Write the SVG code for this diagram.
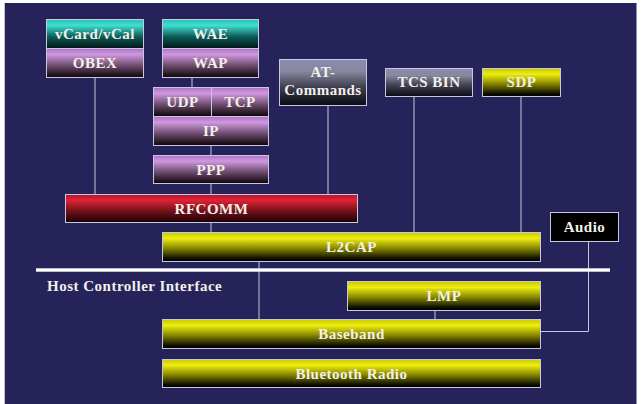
<svg xmlns="http://www.w3.org/2000/svg" width="642" height="404" viewBox="0 0 642 404">
<defs>
<linearGradient id="gY" x1="0" y1="0" x2="0" y2="1">
<stop offset="0" stop-color="#c8c800"/><stop offset="0.2" stop-color="#eeee10"/><stop offset="0.55" stop-color="#858500"/><stop offset="0.9" stop-color="#0c0c00"/><stop offset="1" stop-color="#000"/>
</linearGradient>
<linearGradient id="gP" x1="0" y1="0" x2="0" y2="1">
<stop offset="0" stop-color="#b070c8"/><stop offset="0.2" stop-color="#d098e0"/><stop offset="0.6" stop-color="#6a4a6a"/><stop offset="1" stop-color="#0c0408"/>
</linearGradient>
<linearGradient id="gT" x1="0" y1="0" x2="0" y2="1">
<stop offset="0" stop-color="#28c0b8"/><stop offset="0.2" stop-color="#40e0d0"/><stop offset="0.6" stop-color="#0e5a58"/><stop offset="1" stop-color="#001414"/>
</linearGradient>
<linearGradient id="gR" x1="0" y1="0" x2="0" y2="1">
<stop offset="0" stop-color="#b01830"/><stop offset="0.2" stop-color="#e02234"/><stop offset="0.6" stop-color="#701018"/><stop offset="1" stop-color="#180004"/>
</linearGradient>
<linearGradient id="gG" x1="0" y1="0" x2="0" y2="1">
<stop offset="0" stop-color="#8a8ab0"/><stop offset="0.25" stop-color="#8888a0"/><stop offset="0.6" stop-color="#404050"/><stop offset="1" stop-color="#0a0a14"/>
</linearGradient>
<style>
.b{stroke:#c8c8dc;stroke-width:1}
.y{fill:url(#gY)}.p{fill:url(#gP)}.t{fill:url(#gT)}.r{fill:url(#gR)}.g{fill:url(#gG)}.k{fill:#000}
text{font-family:"Liberation Serif","DejaVu Serif",serif;font-weight:bold;font-size:15px;letter-spacing:0.5px;fill:#f2f0e8;text-anchor:middle}
.c line,.c polyline{stroke:#c8c8dc;stroke-width:1;fill:none}
</style>
</defs>
<rect x="0" y="0" width="642" height="404" fill="#ffffff"/>
<rect x="4" y="3" width="633" height="401" fill="#25235a"/>
<line x1="4.5" y1="3" x2="4.5" y2="404" stroke="#c0c0d0" stroke-width="1"/>
<line x1="636.5" y1="3" x2="636.5" y2="404" stroke="#9090a8" stroke-width="1"/>

<g class="c" id="connectors">
<line x1="95" y1="78" x2="95" y2="194"/>
<line x1="192" y1="78" x2="192" y2="87"/>
<line x1="211" y1="146" x2="211" y2="155"/>
<line x1="211" y1="184" x2="211" y2="194"/>
<line x1="328" y1="106" x2="328" y2="194"/>
<line x1="211" y1="223" x2="211" y2="232"/>
<line x1="414" y1="97" x2="414" y2="232"/>
<line x1="521" y1="97" x2="521" y2="232"/>
<polyline points="588.5,242 588.5,331.5 541,331.5"/>
<line x1="259" y1="262" x2="259" y2="319"/>
<line x1="435" y1="311" x2="435" y2="319"/>
</g>

<g id="hci">
<rect x="36" y="268.3" width="574" height="3.4" fill="#ffffff"/>
<text x="47" y="291" style="text-anchor:start">Host Controller Interface</text>
</g>

<g id="vcard"><rect class="b t" x="46.5" y="19.5" width="97" height="29"/><text x="95" y="39">vCard/vCal</text></g>
<g id="obex"><rect class="b p" x="46.5" y="48.5" width="97" height="29"/><text x="95" y="68">OBEX</text></g>
<g id="wae"><rect class="b t" x="162.5" y="19.5" width="96" height="29"/><text x="210.5" y="39">WAE</text></g>
<g id="wap"><rect class="b p" x="162.5" y="48.5" width="96" height="29"/><text x="210.5" y="68">WAP</text></g>
<g id="udp"><rect class="b p" x="153.5" y="87.5" width="58" height="29"/><text x="182.5" y="107">UDP</text></g>
<g id="tcp"><rect class="b p" x="211.5" y="87.5" width="57" height="29"/><text x="240" y="107">TCP</text></g>
<g id="ip"><rect class="b p" x="153.5" y="116.5" width="115" height="29"/><text x="211" y="136">IP</text></g>
<g id="ppp"><rect class="b p" x="153.5" y="155.5" width="115" height="28"/><text x="211" y="175">PPP</text></g>
<g id="at"><rect class="b g" x="279.5" y="59.5" width="87" height="46"/><text x="323" y="77">AT-</text><text x="323" y="95">Commands</text></g>
<g id="tcsbin"><rect class="b g" x="385.5" y="68.5" width="87" height="28"/><text x="429" y="87">TCS BIN</text></g>
<g id="sdp"><rect class="b y" x="482.5" y="68.5" width="78" height="28"/><text x="521.5" y="87">SDP</text></g>
<g id="audio"><rect class="b k" x="550.5" y="212.5" width="68" height="29"/><text x="584.5" y="232">Audio</text></g>
<g id="rfcomm"><rect class="b r" x="65.5" y="194.5" width="292" height="28"/><text x="211.5" y="214">RFCOMM</text></g>
<g id="l2cap"><rect class="b y" x="162.5" y="232.5" width="378" height="29"/><text x="351.5" y="252">L2CAP</text></g>
<g id="lmp"><rect class="b y" x="347.5" y="281.5" width="193" height="29"/><text x="444" y="301">LMP</text></g>
<g id="baseband"><rect class="b y" x="162.5" y="319.5" width="378" height="29"/><text x="351.5" y="339">Baseband</text></g>
<g id="radio"><rect class="b y" x="162.5" y="359.5" width="378" height="28"/><text x="351.5" y="379">Bluetooth Radio</text></g>
</svg>
